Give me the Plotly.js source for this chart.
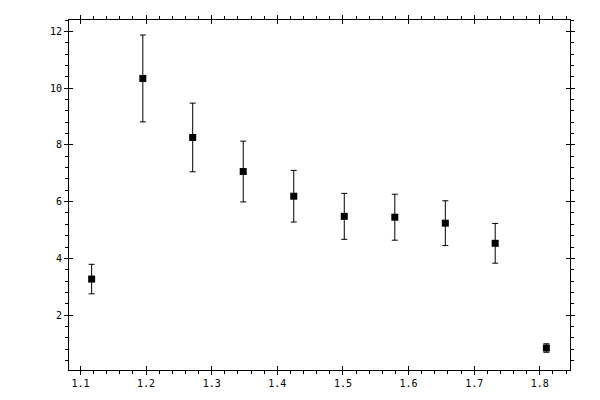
<!DOCTYPE html>
<html>
<head>
<meta charset="utf-8">
<script src="https://cdn.plot.ly/plotly-3.0.1.min.js"></script>
<style>
  html, body { margin: 0; padding: 0; background: #fff; }
  #chart { width: 600px; height: 400px; }
</style>
</head>
<body>
<div id="chart"></div>
<script>
// values
var xVals = [1.117, 1.195, 1.271, 1.348, 1.425, 1.502, 1.579, 1.656, 1.732, 1.810];
var yVals = [3.27, 10.34, 8.26, 7.06, 6.19, 5.48, 5.45, 5.24, 4.53, 0.84];
var yErr  = [0.52, 1.53, 1.21, 1.07, 0.91, 0.81, 0.81, 0.79, 0.70, 0.15];

var xRange = [1.0825, 1.846];
var yRange = [0.065, 12.40];

var tickFont = { family: 'DejaVu Sans Mono', size: 10, color: '#000' };

var points = {
  x: xVals,
  y: yVals,
  mode: 'markers',
  type: 'scatter',
  marker: { symbol: 'square', size: 7, color: '#000' },
  error_y: { type: 'data', array: yErr, visible: true, color: '#000', thickness: 1, width: 3 },
  showlegend: false
};

// empty trace so the inside-tick overlay axes get drawn
var overlay = { x: [], y: [], xaxis: 'x2', yaxis: 'y2', type: 'scatter', showlegend: false };

var layout = {
  width: 600, height: 400,
  margin: { l: 69, r: 30, t: 20, b: 30 },
  paper_bgcolor: '#fff', plot_bgcolor: '#fff',
  font: tickFont,
  xaxis: {
    range: xRange, dtick: 0.1, tick0: 1.1, tickformat: '.1f',
    showgrid: false, zeroline: false,
    showline: true, linecolor: '#000', linewidth: 1, mirror: 'allticks',
    ticks: 'outside', ticklen: 4, tickwidth: 1, tickcolor: '#000',
    minor: { dtick: 0.02, ticks: 'outside', ticklen: 3, tickwidth: 1, tickcolor: '#000', showgrid: false },
    tickfont: tickFont
  },
  yaxis: {
    range: yRange, dtick: 2, tick0: 0,
    showgrid: false, zeroline: false,
    showline: true, linecolor: '#000', linewidth: 1, mirror: 'allticks',
    ticks: 'outside', ticklen: 4, tickwidth: 1, tickcolor: '#000',
    minor: { dtick: 0.4, ticks: 'outside', ticklen: 3, tickwidth: 1, tickcolor: '#000', showgrid: false },
    tickfont: tickFont
  },
  xaxis2: {
    overlaying: 'x', range: xRange, dtick: 0.1, tick0: 1.1,
    showgrid: false, zeroline: false, showticklabels: false,
    ticks: 'inside', ticklen: 4, tickwidth: 1, tickcolor: '#000', mirror: 'ticks', showline: false
  },
  yaxis2: {
    overlaying: 'y', range: yRange, dtick: 2, tick0: 0,
    showgrid: false, zeroline: false, showticklabels: false,
    ticks: 'inside', ticklen: 4, tickwidth: 1, tickcolor: '#000', mirror: 'ticks', showline: false
  }
};

Plotly.newPlot('chart', [points, overlay], layout, { staticPlot: true });
</script>
</body>
</html>
